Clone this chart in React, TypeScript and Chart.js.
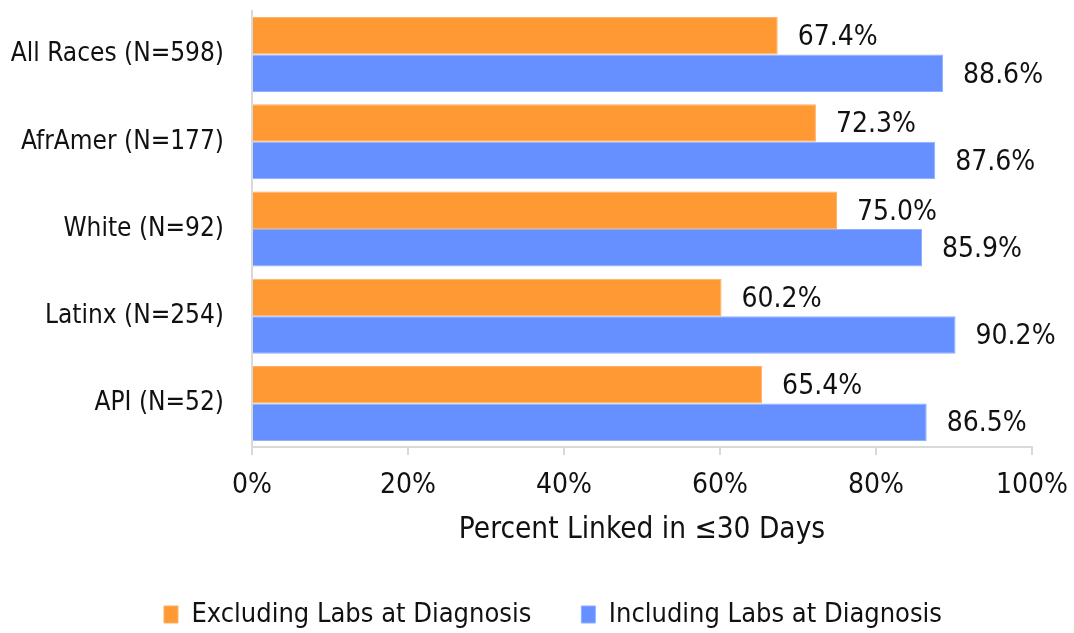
import React, { useEffect, useRef } from "react";
import { Chart, registerables } from "chart.js";

Chart.register(...registerables);

const categories = ["All Races (N=598)", "AfrAmer (N=177)", "White (N=92)", "Latinx (N=254)", "API (N=52)"];
const excludingLabs = [67.4, 72.3, 75.0, 60.2, 65.4];
const includingLabs = [88.6, 87.6, 85.9, 90.2, 86.5];
const seriesNames = ["Excluding Labs at Diagnosis", "Including Labs at Diagnosis"];
const xTicks = [0, 20, 40, 60, 80, 100];
const axisTitle = "Percent Linked in \u226430 Days";

const FONT = "'DejaVu Sans Condensed', 'DejaVu Sans', sans-serif";
const ORANGE = "#FF9933";
const BLUE = "#6690FF";
const TEXT = "#111111";

const labelPlugin = {
  id: "barLabels",
  afterDatasetsDraw(chart: any) {
    const ctx = chart.ctx;
    ctx.save();
    ctx.font = `28px ${FONT}`;
    ctx.fillStyle = TEXT;
    ctx.textAlign = "left";
    ctx.textBaseline = "middle";
    chart.data.datasets.forEach((ds: any, i: number) => {
      const meta = chart.getDatasetMeta(i);
      meta.data.forEach((el: any, j: number) => {
        const v = ds.data[j];
        ctx.fillText(v.toFixed(1) + "%", el.x + 20, el.y + 2);
      });
    });
    ctx.restore();
  },
};

const legendShift = {
  id: "legendShift",
  afterLayout(chart: any) {
    const l = chart.legend;
    if (!l) return;
    l.left += 37;
    l.right += 37;
    l.top += 3;
    l.bottom += 3;
  },
};

export default function App() {
  const ref = useRef<HTMLCanvasElement>(null);
  useEffect(() => {
    document.body.style.margin = "0";
    const chart = new Chart(ref.current!, {
      type: "bar",
      data: {
        labels: categories,
        datasets: [
          { label: seriesNames[0], data: excludingLabs, backgroundColor: ORANGE, borderColor: "#FFB066", borderWidth: 1 },
          { label: seriesNames[1], data: includingLabs, backgroundColor: BLUE, borderColor: "#8FB0FF", borderWidth: 1 },
        ],
      },
      options: {
        indexAxis: "y",
        animation: false,
        responsive: false,
        maintainAspectRatio: false,
        layout: { padding: { top: 11, right: 42, left: 0, bottom: -2 } },
        datasets: { bar: { categoryPercentage: 0.86, barPercentage: 1 } },
        scales: {
          y: {
            afterFit: (s: any) => {
              s.width = 252;
              s.paddingTop = 0;
              s.paddingBottom = 0;
            },
            grid: { display: false, drawTicks: false },
            border: { display: true, color: "#d9d9d9", width: 2 },
            ticks: { color: TEXT, padding: 28, font: { family: FONT, size: 26 } },
          },
          x: {
            min: 0,
            max: 100,
            afterBuildTicks: (s: any) => { s.ticks = xTicks.map((v) => ({ value: v })); },
            afterFit: (s: any) => {
              s.height = 101;
              s.paddingLeft = 0;
              s.paddingRight = 0;
            },
            grid: { drawOnChartArea: false, drawTicks: true, tickLength: 8, color: "#d9d9d9", lineWidth: 2 },
            border: { display: true, color: "#d9d9d9", width: 2 },
            ticks: { color: TEXT, padding: 14, font: { family: FONT, size: 28 }, callback: (v: any) => v + "%" },
            title: { display: true, text: axisTitle, color: TEXT, font: { family: FONT, size: 29.5 }, padding: { top: 4, bottom: 0 } },
          },
        },
        plugins: {
          legend: {
            position: "bottom",
            labels: { boxWidth: 14, boxHeight: 17, color: TEXT, padding: 50, font: { family: FONT, size: 27 } },
          },
          tooltip: { enabled: false },
        },
      },
      plugins: [labelPlugin, legendShift],
    });
    return () => chart.destroy();
  }, []);
  return (
    <div style={{ width: 1074, height: 633, background: "#fff" }}>
      <canvas ref={ref} width={1074} height={633} />
    </div>
  );
}
